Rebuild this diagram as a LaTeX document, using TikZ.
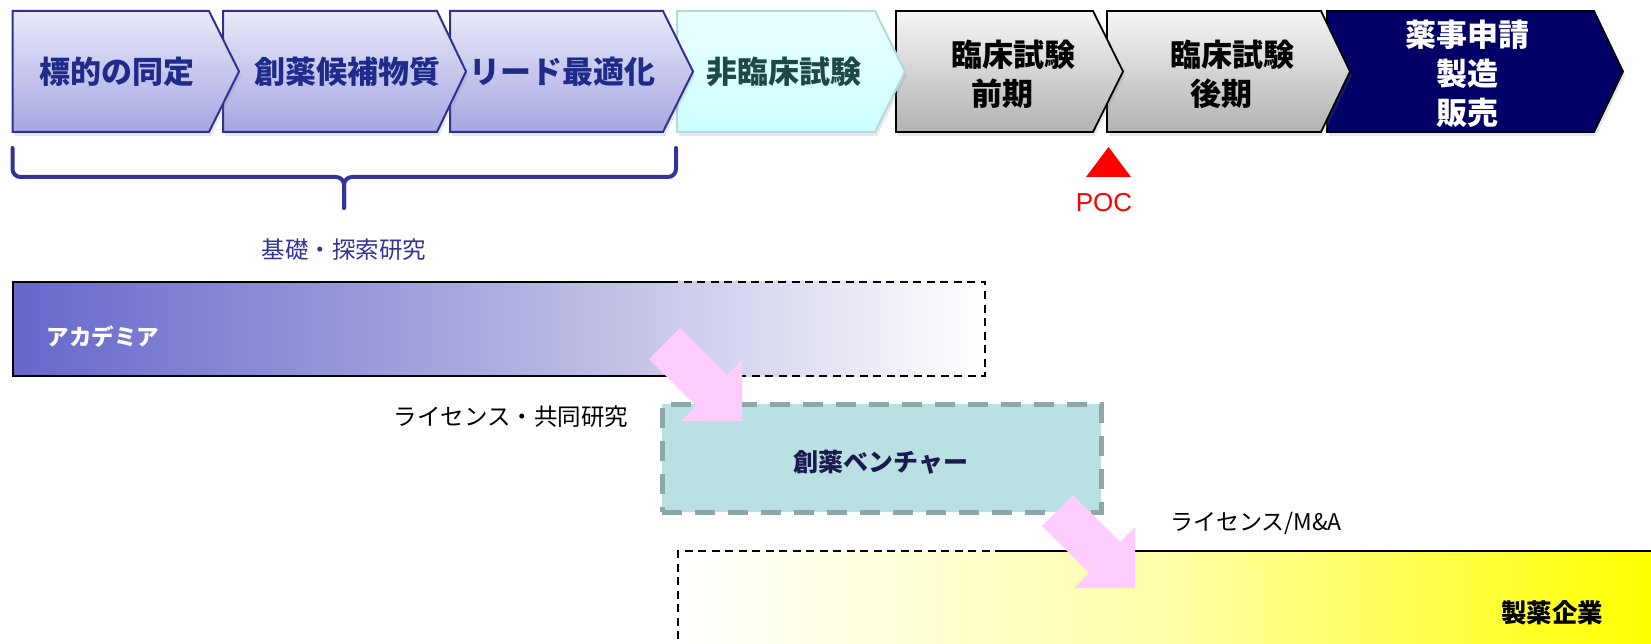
\documentclass[tikz,border=0pt]{standalone}
\usepackage{fontspec}
\setmainfont{Liberation Sans}
\newfontfamily\jp{Noto Sans CJK JP}
\usetikzlibrary{shadows}
\definecolor{cbord}{HTML}{2E3192}
\definecolor{cbtop}{HTML}{E9E9F9}
\definecolor{cbbot}{HTML}{A6A6E2}
\definecolor{cbtext}{HTML}{1F2B8A}
\definecolor{cctop}{HTML}{EBFFFF}
\definecolor{ccbot}{HTML}{CCFFFF}
\definecolor{ccbord}{HTML}{B2DADA}
\definecolor{cctext}{HTML}{1E4848}
\definecolor{cgtop}{HTML}{F6F6F6}
\definecolor{cgbot}{HTML}{B2B2B2}
\definecolor{navy}{HTML}{000066}
\definecolor{brc}{HTML}{333399}
\definecolor{acL}{HTML}{6767CC}
\definecolor{acM}{HTML}{ADADDF}
\definecolor{ventfill}{HTML}{B9E0E3}
\definecolor{ventbord}{HTML}{8DA7A8}
\definecolor{venttext}{HTML}{1A1A50}
\definecolor{pinkarr}{HTML}{FFCCFF}
\definecolor{yelM}{HTML}{FFFFA8}
\begin{document}
\begin{tikzpicture}[x=1pt,y=-1pt,
  shad/.style={drop shadow={opacity=0.18, shadow xshift=2pt, shadow yshift=-4pt}},
  chevblue/.style={shad, draw=cbord, line width=2pt, top color=cbtop, bottom color=cbbot},
  chevcyan/.style={shad, draw=ccbord, line width=2pt, top color=cctop, bottom color=ccbot},
  chevgray/.style={shad, draw=black, line width=1.8pt, top color=cgtop, bottom color=cgbot},
  chevnavy/.style={shad, draw=black, line width=1.8pt, fill=navy},
  chevtext/.style={font=\jp\bfseries\fontsize{31}{39}\selectfont, inner sep=0pt, align=center},
  brace/.style={draw=brc, line width=4pt, rounded corners=8pt, line cap=round},
  solidedge/.style={draw=black, line width=2pt},
  dashedge/.style={draw=black, line width=1.8pt, dash pattern=on 8pt off 5.5pt},
  fatarrow/.style={fill=pinkarr},
  plain/.style={font=\jp\fontsize{23.5}{28}\selectfont, inner sep=0pt},
  boldlbl/.style={font=\jp\bfseries\fontsize{25}{30}\selectfont, inner sep=0pt}
]
\useasboundingbox (0,0) rectangle (1651,644);
\fill[white] (0,0) rectangle (1651,644);

% chevrons, drawn right to left so that each tip lies over the next one
\path[chevnavy] (1327,11) -- (1594,11) -- (1623,71.5) -- (1594,132) -- (1327,132) -- cycle;
\path[chevgray] (1107,11) -- (1321,11) -- (1350,71.5) -- (1321,132) -- (1107,132) -- cycle;
\path[chevgray] (896,11) -- (1093,11) -- (1123,71.5) -- (1093,132) -- (896,132) -- cycle;
\path[chevcyan] (677,11) -- (875,11) -- (905,71.5) -- (875,132) -- (677,132) -- cycle;
\path[chevblue] (450,11) -- (663,11) -- (693,71.5) -- (663,132) -- (450,132) -- cycle;
\path[chevblue] (223,11) -- (437,11) -- (466,71.5) -- (437,132) -- (223,132) -- cycle;
\path[chevblue] (12.5,11) -- (209,11) -- (239,71.5) -- (209,132) -- (12.5,132) -- cycle;

\node[chevtext, text=cbtext] (c1) at (117,72) {標的の同定};
\node[chevtext, text=cbtext] (c2) at (347,72) {創薬候補物質};
\node[chevtext, text=cbtext] (c3) at (562,72) {リード最適化};
\node[chevtext, text=cctext] (c4) at (784,72) {非臨床試験};
\node[chevtext, text=black] (c5) at (1013,74) {臨床試験\\前期\hspace*{0.65em}};
\node[chevtext, text=black] (c6) at (1232,74) {臨床試験\\後期\hspace*{0.65em}};
\node[chevtext, text=white] (c7) at (1467,73.5) {薬事申請\\製造\\販売};

% brace
\draw[brace] (12.5,148) |- (344,177) -- (344,208);
\draw[brace] (676,148) |- (344,177) -- (344,208);
\node[plain, text=brc] (kiso) at (344,250) {基礎・探索研究};

% POC
\fill[red] (1108.5,147) -- (1131,177) -- (1086,177) -- cycle;
\node[font=\fontsize{26}{30}\selectfont, text=red, inner sep=0pt] (poc) at (1104,203) {POC};

% academia
\shade[left color=acL, right color=white, middle color=acM] (12.5,282) rectangle (985,376);
\draw[solidedge] (670,282) -- (12.5,282) -- (12.5,376) -- (670,376);
\draw[dashedge] (670,282) -- (985,282) -- (985,376) -- (670,376);
\node[font=\jp\bfseries\fontsize{22.5}{27}\selectfont, text=white, inner sep=0pt] (acad) at (103,337) {アカデミア};

\node[plain] (lic1) at (511,417) {ライセンス・共同研究};

% venture
\node[draw=ventbord, fill=ventfill, line width=5pt, dash pattern=on 20pt off 13pt,
      minimum width=439pt, minimum height=108pt, inner sep=0pt] (vent) at (881.5,458) {};
\node[boldlbl, text=venttext] (venttxt) at (881,462) {創薬ベンチャー};

% pharma company
\shade[left color=white, right color=yellow, middle color=yelM] (678,551) rectangle (1651,644);
\draw[dashedge] (1003,551) -- (678,551) -- (678,644);
\draw[solidedge] (1003,551) -- (1651,551);
\node[font=\jp\bfseries\fontsize{25.5}{30}\selectfont, inner sep=0pt] (pharma) at (1552,613) {製薬企業};

\node[font=\jp\fontsize{23}{28}\selectfont, inner sep=0pt] (lic2) at (1256,523) {ライセンス/M\&A};

% fat arrows
\coordinate (tip1) at (742,421);
\coordinate (tip2) at (1135,588);
\fill[fatarrow, shift={(tip1)}] (-93,-62) -- (-46,-15) -- (-61,0) -- (0,0) -- (0,-61) -- (-15,-46) -- (-62,-93) -- cycle;
\fill[fatarrow, shift={(tip2)}] (-93,-62) -- (-46,-15) -- (-61,0) -- (0,0) -- (0,-61) -- (-15,-46) -- (-62,-93) -- cycle;
\end{tikzpicture}
\end{document}
